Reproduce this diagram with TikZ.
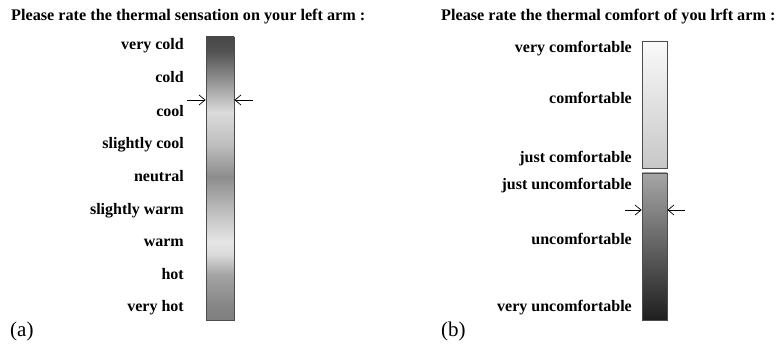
\documentclass[tikz,border=0pt]{standalone}
\usepackage{fontspec}
\setmainfont{Liberation Serif}
\usetikzlibrary{arrows.meta}
\pgfdeclareverticalshading{sensation}{100bp}{%
color(0bp)=(black!50); color(25bp)=(black!50); color(27.3bp)=(black!48);
color(33bp)=(black!36); color(36.5bp)=(black!15); color(38.8bp)=(black!10);
color(44.4bp)=(black!26); color(50.3bp)=(black!45); color(56.1bp)=(black!25);
color(61.7bp)=(black!14); color(67.8bp)=(black!45); color(72.5bp)=(black!68);
color(75bp)=(black!72); color(100bp)=(black!72)}
\tikzset{
  lbl/.style={anchor=base east, inner sep=0pt, font=\bfseries\fontsize{16}{19}\selectfont},
  ttl/.style={anchor=base west, inner sep=0pt, font=\bfseries\fontsize{16.2}{19}\selectfont},
  tag/.style={anchor=base west, inner sep=0pt, font=\fontsize{21}{24}\selectfont},
  bar/.style={draw=black!70, line width=0.8pt, inner sep=0pt},
  marker/.style={line width=0.7pt, -{Straight Barb[length=6pt,width=10pt]}}
}
\begin{document}
\begin{tikzpicture}[x=1pt,y=-1pt]
\useasboundingbox (0,0) rectangle (781,344);
% panel (a)
\node[ttl] (ta) at (11,21) {Please rate the thermal sensation on your left arm :};
\node[bar, shading=sensation, minimum width=28pt, minimum height=283pt] (barA) at (220,178.5) {};
\node[lbl] (a1) at (184,50) {very cold};
\node[lbl] (a2) at (184,83) {cold};
\node[lbl] (a3) at (184,117) {cool};
\node[lbl] (a4) at (184,149) {slightly cool};
\node[lbl] (a5) at (184,182) {neutral};
\node[lbl] (a6) at (184,215) {slightly warm};
\node[lbl] (a7) at (184,247) {warm};
\node[lbl] (a8) at (184,280) {hot};
\node[lbl] (a9) at (184,312) {very hot};
\coordinate (aL) at (187,100);
\coordinate (aR) at (253,100);
\draw[marker] (aL) -- (aL -| barA.west);
\draw[marker] (aR) -- (aR -| barA.east);
\node[tag] (la) at (10,336) {(a)};
% panel (b)
\node[ttl] (tb) at (441,21) {Please rate the thermal comfort of you lrft arm :};
\node[bar, top color=black!2, bottom color=black!22, minimum width=25pt, minimum height=127pt] (barB1) at (654.5,104.5) {};
\node[bar, top color=black!35, bottom color=black!88, minimum width=25pt, minimum height=147pt] (barB2) at (654.5,246.5) {};
\node[lbl] (b1) at (632,53) {very comfortable};
\node[lbl] (b2) at (632,104) {comfortable};
\node[lbl] (b3) at (632,163) {just comfortable};
\node[lbl] (b4) at (632,190) {just uncomfortable};
\node[lbl] (b5) at (632,245) {uncomfortable};
\node[lbl] (b6) at (632,312) {very uncomfortable};
\coordinate (bL) at (625,210);
\coordinate (bR) at (685,210);
\draw[marker] (bL) -- (bL -| barB2.west);
\draw[marker] (bR) -- (bR -| barB2.east);
\node[tag] (lb) at (441,336) {(b)};
\end{tikzpicture}
\end{document}
